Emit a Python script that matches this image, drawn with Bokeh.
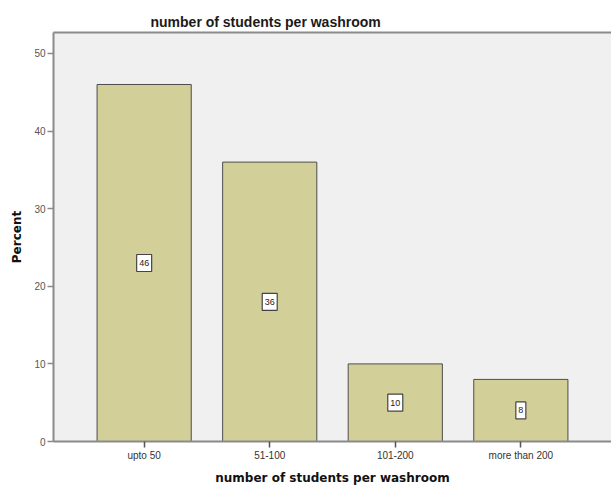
from bokeh.plotting import figure
from bokeh.models import (FactorRange, Range1d, LinearAxis, FixedTicker,
                          ColumnDataSource, Title)
from bokeh.core.properties import value
from bokeh.embed import file_html
from bokeh.resources import INLINE

# Share of schools by number of students per washroom
categories = ["upto 50", "51-100", "101-200", "more than 200"]
percent = [46, 36, 10, 8]
y_ticks = [0, 10, 20, 30, 40, 50]

txt = [str(v) for v in percent]
source = ColumnDataSource(dict(
    cat=categories,
    pct=percent,
    mid=[v / 2 for v in percent],
    txt=txt,
    box_w=[5 * len(t) + 5 for t in txt],
))

p = figure(
    width=611, height=487,
    x_range=FactorRange(*categories, range_padding=0.222, range_padding_units="absolute"),
    y_range=Range1d(0, 52.7),
    output_backend="svg", toolbar_location=None,
    min_border_left=53, min_border_right=0, min_border_top=32, min_border_bottom=46,
)
p.background_fill_color = "#F0F0F0"
p.border_fill_color = "white"
p.outline_line_color = None
p.grid.visible = False

# Title
p.title = Title(text="number of students per washroom", align="left", offset=97,
                text_font="Liberation Sans", text_font_size="14px",
                text_font_style="bold", text_color="#1a1a1a", standoff=6)

# Bars
p.vbar(x="cat", top="pct", width=0.75, source=source,
       fill_color="#D3CF98", line_color="#4d4d4d", line_width=1)

# Boxed value labels at mid-height of each bar
p.rect(x="cat", y="mid", width="box_w", height=17, width_units="screen",
       height_units="screen", source=source, fill_color="white",
       line_color="#444444", line_width=1.2)
p.text(x="cat", y="mid", text="txt", source=source,
       text_align="center", text_baseline="middle",
       text_font=value("Liberation Sans"), text_font_size="9px", text_color="#222222")

axis_grey = "#8a8a8a"

# Y axis
ya = p.yaxis[0]
ya.ticker = FixedTicker(ticks=y_ticks)
ya.axis_label = "Percent"
ya.axis_label_text_font = "DejaVu Sans"
ya.axis_label_text_font_style = "bold"
ya.axis_label_text_font_size = "12px"
ya.axis_label_text_color = "#111111"
ya.axis_label_standoff = 7
ya.major_label_text_font = "Liberation Sans"
ya.major_label_text_font_size = "10px"
ya.major_label_text_color = "#555555"
ya.major_label_standoff = 2
ya.axis_line_color = axis_grey
ya.axis_line_width = 2
ya.major_tick_line_color = axis_grey
ya.major_tick_line_width = 1.5
ya.major_tick_in = 0
ya.major_tick_out = 6
ya.minor_tick_line_color = None

# X axis
xa = p.xaxis[0]
xa.axis_label = "number of students per washroom"
xa.axis_label_text_font = "DejaVu Sans"
xa.axis_label_text_font_style = "bold"
xa.axis_label_text_font_size = "12px"
xa.axis_label_text_color = "#111111"
xa.axis_label_standoff = 7
xa.major_label_text_font = "Liberation Sans"
xa.major_label_text_font_size = "10px"
xa.major_label_text_color = "#333333"
xa.major_label_standoff = 2
xa.axis_line_color = axis_grey
xa.axis_line_width = 2
xa.major_tick_line_color = "#555555"
xa.major_tick_line_width = 1.5
xa.major_tick_in = 0
xa.major_tick_out = 6

# Top border of the plot area
top = LinearAxis(ticker=FixedTicker(ticks=[]), axis_line_color=axis_grey,
                 axis_line_width=2, major_tick_line_color=None,
                 minor_tick_line_color=None, major_label_text_font_size="0px")
p.add_layout(top, "above")

open("out.html", "w").write(file_html(p, INLINE))
